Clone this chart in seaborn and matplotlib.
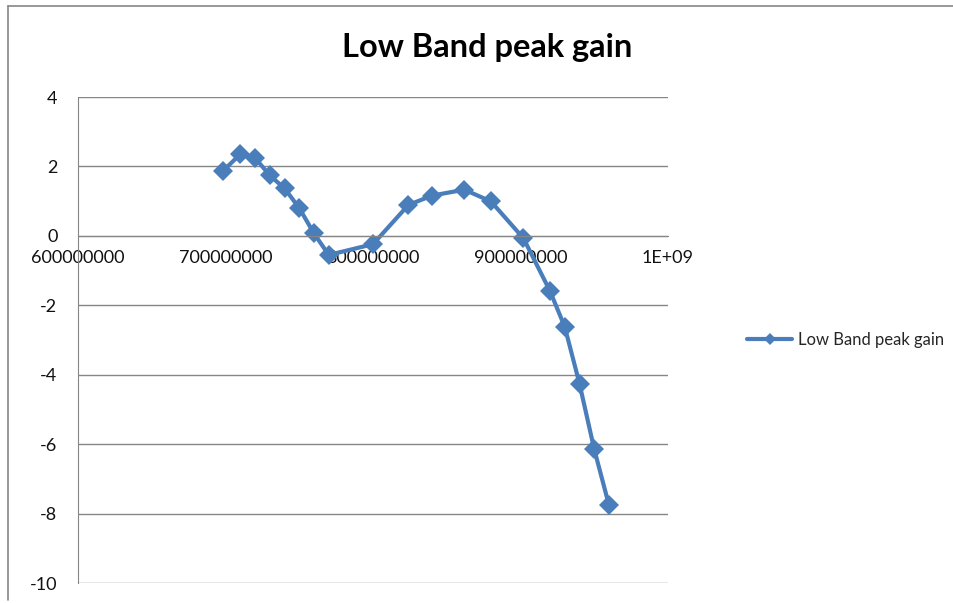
import matplotlib
matplotlib.use('Agg')
import matplotlib.pyplot as plt
import seaborn as sns
import pandas as pd
from matplotlib.lines import Line2D
from matplotlib.ticker import FixedLocator, FixedFormatter

# frequency (Hz) and peak gain values
freq_hz = [698e6, 710e6, 720e6, 730e6, 740e6, 750e6, 760e6, 770e6, 800e6,
           824e6, 840e6, 862e6, 880e6, 902e6, 920e6, 930e6, 940e6, 950e6, 960e6]
gain = [1.86, 2.35, 2.25, 1.74, 1.37, 0.80, 0.07, -0.55, -0.24,
        0.89, 1.16, 1.33, 0.99, -0.07, -1.59, -2.62, -4.26, -6.15, -7.76]

x_ticks = [6e8, 7e8, 8e8, 9e8, 1e9]
x_tick_labels = ['600000000', '700000000', '800000000', '900000000', '1E+09']
y_ticks = [-10, -8, -6, -4, -2, 0, 2, 4]

series_name = 'Low Band peak gain'
line_color = '#4A7EBB'
grid_color = '#868686'

df = pd.DataFrame({'freq': freq_hz, 'gain': gain})

sns.set_style('white')
plt.rcParams['font.family'] = ['Lato', 'DejaVu Sans']

fig = plt.figure(figsize=(9.54, 6.03), dpi=100)
ax = fig.add_axes([78 / 954, 1 - 583 / 603, (668 - 78) / 954, (583 - 97) / 603])

sns.lineplot(data=df, x='freq', y='gain', ax=ax, color=line_color,
             linewidth=3, marker='D', markersize=10, markeredgewidth=0,
             label=series_name)

ax.set_xlim(6e8, 1e9)
ax.set_ylim(-10, 4)
ax.xaxis.set_major_locator(FixedLocator(x_ticks))
ax.xaxis.set_major_formatter(FixedFormatter(x_tick_labels))
ax.set_yticks(y_ticks)
ax.set_yticklabels([str(v) for v in y_ticks])
ax.set_xlabel('')
ax.set_ylabel('')

# Excel style: horizontal gridlines, x axis crossing at zero
ax.grid(axis='y', color=grid_color, linewidth=1)
ax.grid(axis='x', visible=False)
ax.spines['bottom'].set_position(('data', 0))
ax.spines['bottom'].set_color(grid_color)
ax.spines['left'].set_color(grid_color)
ax.spines['top'].set_visible(False)
ax.spines['right'].set_visible(False)
ax.tick_params(axis='x', direction='out', length=4.3, width=1, color=grid_color,
               pad=6, labelsize=13, labelcolor='#111111')
ax.tick_params(axis='y', direction='out', length=5.8, width=1, color=grid_color,
               pad=9, labelsize=13, labelcolor='#111111')
ax.set_axisbelow(True)

leg = ax.legend(loc='center left', bbox_to_anchor=(747 / 954, 1 - 340 / 603),
                bbox_transform=fig.transFigure, frameon=False, fontsize=12,
                handlelength=2.7, handletextpad=0.35, borderaxespad=0,
                borderpad=0)
for h in leg.legend_handles:
    h.set_markersize(6.5)

fig.text(0.511, 1 - 48 / 603, 'Low Band peak gain', ha='center', va='center',
         fontsize=23.5, fontweight='bold', color='#000000')

# chart-area border (top and left edges visible)
fig.add_artist(Line2D([8 / 954, 1], [1 - 6 / 603, 1 - 6 / 603],
                      transform=fig.transFigure, color=grid_color, linewidth=1.2))
fig.add_artist(Line2D([8 / 954, 8 / 954], [1 - 6 / 603, 1 - 600 / 603],
                      transform=fig.transFigure, color=grid_color, linewidth=1.2))

fig.savefig('out.png', dpi=100)
